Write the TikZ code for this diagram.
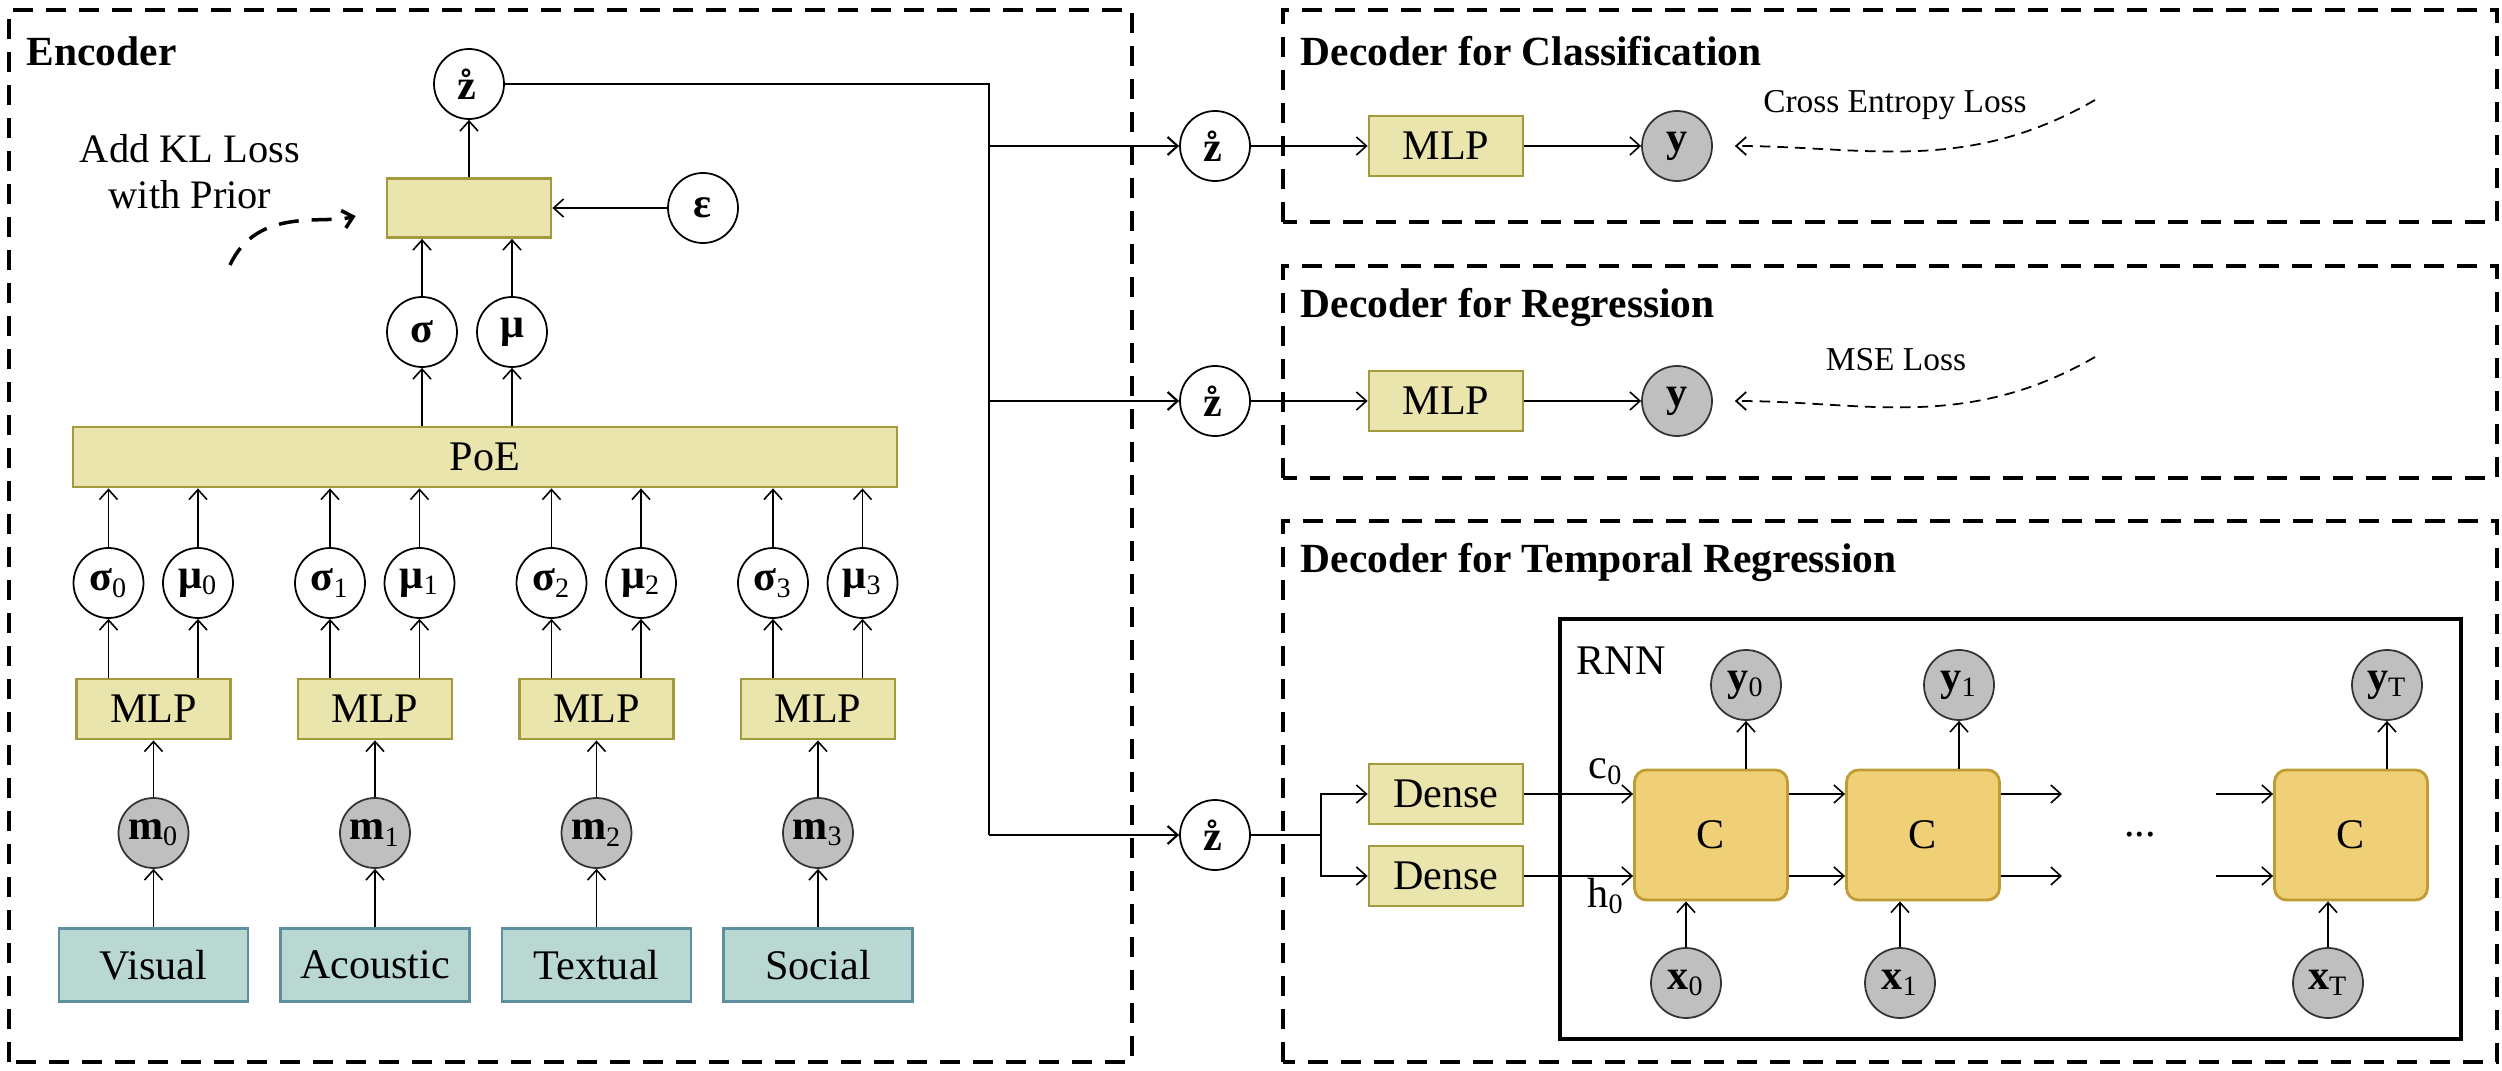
\documentclass[tikz,border=0pt]{standalone}
\usepackage{fontspec}
\setmainfont{Liberation Serif}
\usetikzlibrary{arrows.meta}
\definecolor{boxfill}{HTML}{E9E5AD}
\definecolor{boxline}{HTML}{A29A3C}
\definecolor{modfill}{HTML}{B8D8D1}
\definecolor{modline}{HTML}{5E8FA0}
\definecolor{cellfill}{HTML}{F0D077}
\definecolor{cellline}{HTML}{C19B33}
\definecolor{obsgray}{HTML}{BFBFBF}
\tikzset{>={Straight Barb[length=1mm, width=1.8mm]}}
\tikzset{
    var/.style={circle, draw, line width=0.5pt, minimum size=0.7cm, inner sep=0pt},
    obs/.style={var, fill=obsgray, draw=black!80},
    yellowbox/.style={draw=boxline, fill=boxfill, line width=0.8pt, minimum width=1.54cm, minimum height=0.6cm, inner sep=0pt},
    modbox/.style={draw=modline, fill=modfill, line width=0.8pt, minimum width=1.89cm, minimum height=0.73cm, inner sep=0pt},
    cell/.style={draw=cellline, fill=cellfill, line width=0.8pt, rounded corners=0.12cm, minimum width=1.53cm, minimum height=1.3cm},
    frame/.style={line width=1pt, dash pattern=on 2mm off 1.3mm},
    title/.style={anchor=west, inner sep=0pt, font=\fontsize{11.8}{14}\selectfont\bfseries},
    loss/.style={densely dashed, line width=0.5pt, shorten >=2.2mm},
}
\newcommand*{\zr}{\textbf{\r{z}}}

\begin{document}
\begin{tikzpicture}[line width=0.45pt, font=\fontsize{12}{14}\selectfont]
    \useasboundingbox(0, 0) rectangle (25.02, 10.70);
    % encoder
    \draw[frame](0.09, 0.08) rectangle (11.32, 10.60);
    \node[title](enc)at(0.26, 10.19){Encoder};
    \node[yellowbox, minimum width=1.64cm, minimum height=0.59cm](rep)at(4.69, 8.62){};
    \node[var](z0)at(4.69, 9.86){\zr};
    \node[var](eps)at(7.03, 8.62){\textbf{ε}};
    \node[var](sig)at(4.22, 7.38){\textbf{σ}};
    \node[var](mu)at(5.12, 7.38){\textbf{μ}};
    \node[yellowbox, minimum width=8.24cm](poe)at(4.85, 6.13){PoE};
    \draw[->](rep)--(z0);
    \draw[->](eps)--(rep);
    \draw[->](sig)--(sig|-rep.south);
    \draw[->](mu)--(mu|-rep.south);
    \draw[->](sig|-poe.north)--(sig);
    \draw[->](mu|-poe.north)--(mu);
    \node[align=center, font=\fontsize{11.5}{13}\selectfont](kl)at(1.90, 8.98){Add KL Loss\\with Prior};
    \coordinate(klfrom)at(2.30, 8.05);
    \draw[->, line width=1pt, dash pattern=on 2mm off 1.3mm, shorten >=3.1mm](klfrom) to[out=65, in=195] (rep.west);
    \foreach \i/\x/\lbl in {0/1.535/Visual, 1/3.75/Acoustic, 2/5.965/Textual, 3/8.18/Social}{
        \node[modbox](in\i)at(\x, 1.05){\lbl};
        \node[obs](m\i)at(\x, 2.37){\textbf{m}\textsubscript{\i}};
        \node[yellowbox](mlp\i)at(\x, 3.61){MLP};
        \node[var](s\i)at(\x-0.45, 4.87){\textbf{σ}\textsubscript{\i}};
        \node[var](mu\i)at(\x+0.445, 4.87){\textbf{μ}\textsubscript{\i}};
        \draw[->](in\i)--(m\i);
        \draw[->](m\i)--(mlp\i);
        \draw[->](s\i|-mlp\i.north)--(s\i);
        \draw[->](mu\i|-mlp\i.north)--(mu\i);
        \draw[->](s\i)--(s\i|-poe.south);
        \draw[->](mu\i)--(mu\i|-poe.south);
    }
    % the three decoders
    \draw[frame](12.83, 8.48) rectangle (24.97, 10.60);
    \draw[frame](12.83, 5.92) rectangle (24.97, 8.04);
    \draw[frame](12.83, 0.08) rectangle (24.97, 5.49);
    \node[title](dcl)at(13.00, 10.19){Decoder for Classification};
    \node[title](dre)at(13.00, 7.63){Decoder for Regression};
    \node[title](dte)at(13.00, 5.08){Decoder for Temporal Regression};
    \coordinate(b1)at(9.89, 9.24);
    \coordinate(b2)at(9.89, 6.69);
    \coordinate(b3)at(9.89, 2.35);
    \draw[line width=0.6pt](z0)-|(b3);
    \node[var](z1)at(12.15, 9.24){\zr};
    \node[var](z2)at(12.15, 6.69){\zr};
    \node[var](z3)at(12.15, 2.35){\zr};
    \draw[->, line width=0.6pt](b1)--(z1);
    \draw[->, line width=0.6pt](b2)--(z2);
    \draw[->, line width=0.6pt](b3)--(z3);
    % classification and regression
    \node[yellowbox](mlpc)at(14.46, 9.24){MLP};
    \node[obs](yc)at(16.77, 9.24){\textbf{y}};
    \node[yellowbox](mlpr)at(14.46, 6.69){MLP};
    \node[obs](yr)at(16.77, 6.69){\textbf{y}};
    \draw[->](z1)--(mlpc);
    \draw[->](mlpc)--(yc);
    \draw[->](z2)--(mlpr);
    \draw[->](mlpr)--(yr);
    \node[font=\fontsize{9.5}{11}\selectfont](ce)at(18.95, 9.65){Cross Entropy Loss};
    \node[font=\fontsize{9.5}{11}\selectfont](mse)at(18.96, 7.10){MSE Loss};
    \coordinate(cefrom)at(20.95, 9.70);
    \coordinate(msefrom)at(20.95, 7.13);
    \draw[->, loss](cefrom) to[out=210, in=0] (yc.east);
    \draw[->, loss](msefrom) to[out=210, in=0] (yr.east);
    % temporal regression
    \coordinate(sp)at(13.21, 2.35);
    \node[yellowbox](dc)at(14.46, 2.76){Dense};
    \node[yellowbox](dh)at(14.46, 1.94){Dense};
    \draw[line width=0.6pt](z3)--(sp);
    \draw[->](sp)|-(dc);
    \draw[->](sp)|-(dh);
    \draw[line width=1pt](15.60, 0.31) rectangle (24.61, 4.51);
    \node[anchor=west, inner sep=0pt](rnn)at(15.76, 4.09){RNN};
    \node[cell](c0)at(17.11, 2.35){C};
    \node[cell](c1)at(19.23, 2.35){C};
    \node[cell](cT)at(23.51, 2.35){C};
    \node(clab)at(16.06, 2.98){c\textsubscript{0}};
    \node(hlab)at(16.06, 1.74){h\textsubscript{0}};
    \draw[->](dc)--(dc-|c0.west);
    \draw[->](dh)--(dh-|c0.west);
    \draw[->](c0.east|-dc)--(c1.west|-dc);
    \draw[->](c0.east|-dh)--(c1.west|-dh);
    \coordinate(oc)at(20.62, 2.76);
    \coordinate(oh)at(20.62, 1.94);
    \coordinate(ic)at(22.16, 2.76);
    \coordinate(ih)at(22.16, 1.94);
    \draw[->](c1.east|-oc)--(oc);
    \draw[->](c1.east|-oh)--(oh);
    \draw[->](ic)--(ic-|cT.west);
    \draw[->](ih)--(ih-|cT.west);
    \node(dots)at(21.40, 2.35){...};
    \node[obs](y0)at(17.46, 3.85){\textbf{y}\textsubscript{0}};
    \node[obs](y1)at(19.59, 3.85){\textbf{y}\textsubscript{1}};
    \node[obs](yT)at(23.87, 3.85){\textbf{y}\textsubscript{T}};
    \node[obs](x0)at(16.86, 0.87){\textbf{x}\textsubscript{0}};
    \node[obs](x1)at(19.00, 0.87){\textbf{x}\textsubscript{1}};
    \node[obs](xT)at(23.28, 0.87){\textbf{x}\textsubscript{T}};
    \draw[->](y0|-c0.north)--(y0);
    \draw[->](y1|-c1.north)--(y1);
    \draw[->](yT|-cT.north)--(yT);
    \draw[->](x0)--(x0|-c0.south);
    \draw[->](x1)--(x1|-c1.south);
    \draw[->](xT)--(xT|-cT.south);
\end{tikzpicture}
\end{document}
